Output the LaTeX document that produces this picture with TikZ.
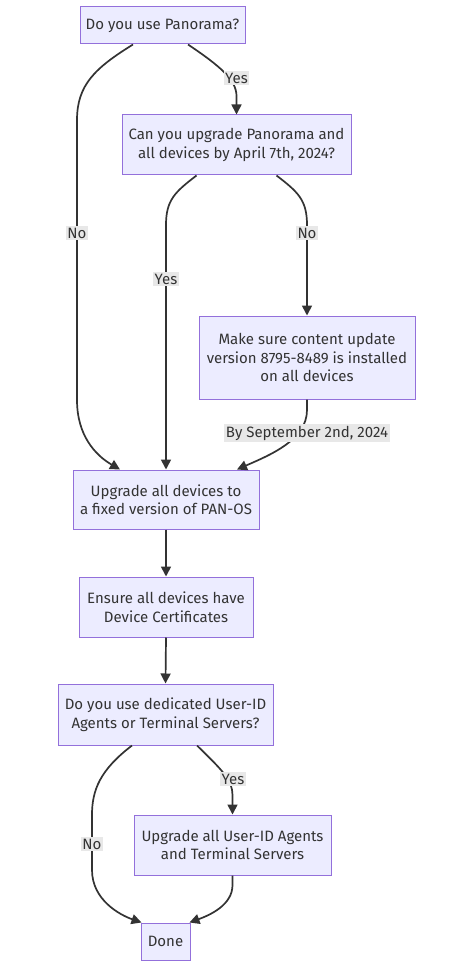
\documentclass[tikz,border=0pt]{standalone}
\usepackage{fontspec}
\setmainfont{Fira Sans}
\usetikzlibrary{arrows.meta}
\definecolor{boxfill}{HTML}{ECECFF}
\definecolor{boxline}{HTML}{9370DB}
\definecolor{ink}{HTML}{333333}
\definecolor{lblbg}{HTML}{E8E8E8}
\begin{document}
\begin{tikzpicture}[x=1pt,y=-1pt,
  every node/.style={font=\fontsize{15}{18.5}\selectfont, text=ink},
  flowbox/.style={draw=boxline, fill=boxfill, line width=1pt, align=center, inner sep=0pt},
  conn/.style={draw=ink, line width=1.7pt, -{Triangle[length=10pt,width=10pt]}},
  elabel/.style={fill=lblbg, inner sep=1.5pt, align=center}]
\useasboundingbox[fill=white] (0,0) rectangle (474,968);

\node[flowbox, minimum width=165pt, minimum height=37pt] (n1) at (162.5,25.5) {Do you use Panorama?};
\node[flowbox, minimum width=229pt, minimum height=60pt] (n2) at (236.5,145) {Can you upgrade Panorama and\\all devices by April 7th, 2024?};
\node[flowbox, minimum width=216pt, minimum height=83pt] (n3) at (307,357.5) {Make sure content update\\version 8795-8489 is installed\\on all devices};
\node[flowbox, minimum width=186pt, minimum height=59pt] (n4) at (166,499.5) {Upgrade all devices to\\a fixed version of PAN-OS};
\node[flowbox, minimum width=174pt, minimum height=60pt] (n5) at (166,607) {Ensure all devices have\\Device Certificates};
\node[flowbox, minimum width=215pt, minimum height=61pt] (n6) at (165.5,714.5) {Do you use dedicated User-ID\\Agents or Terminal Servers?};
\node[flowbox, minimum width=197pt, minimum height=60pt] (n7) at (232.5,845) {Upgrade all User-ID Agents\\and Terminal Servers};
\node[flowbox, minimum width=49pt, minimum height=37pt] (n8) at (165.5,941.5) {Done};

% 1 -> 2 Yes
\draw[conn] ([xshift=25.5pt]n1.south) .. controls (220,66) and (236.5,80) .. (236.5,96) -- (n2.north);
\node[elabel] (l1) at (236.5,78) {Yes};
% 1 -> 4 No
\draw[conn] ([xshift=-29.5pt]n1.south) .. controls (95,68) and (77,85) .. (77,120) -- (77,400) .. controls (77,435) and (95,455) .. ([xshift=-46pt]n4.north);
\node[elabel] (l2) at (77,233) {No};
% 2 -> 4 Yes
\draw[conn] ([xshift=-40pt]n2.south) .. controls (175,192) and (166,200) .. (166,225) -- (n4.north);
\node[elabel] (l3) at (166,279) {Yes};
% 2 -> 3 No
\draw[conn] ([xshift=40pt]n2.south) .. controls (298,192) and (307,200) .. (307,225) -- (n3.north);
\node[elabel] (l4) at (307,233) {No};
% 3 -> 4
\draw[conn] (n3.south) -- (307,410) .. controls (307,440) and (270,455) .. ([xshift=71pt]n4.north);
\node[elabel] (l5) at (307,433) {By September 2nd, 2024};
% 4 -> 5 -> 6
\draw[conn] (n4.south) -- (n5.north);
\draw[conn] (n5.south) -- (n6.north);
% 6 -> 7 Yes
\draw[conn] ([xshift=31.5pt]n6.south) .. controls (222,770) and (232.5,780) .. (232.5,795) -- (n7.north);
\node[elabel] (l6) at (233,779) {Yes};
% 6 -> 8 No
\draw[conn] ([xshift=-33.5pt]n6.south) .. controls (100,770) and (92,790) .. (92,815) -- (92,870) .. controls (92,900) and (120,915) .. ([xshift=-24pt]n8.north);
\node[elabel] (l7) at (92,844) {No};
% 7 -> 8
\draw[conn] (n7.south) -- (232.5,885) .. controls (232.5,905) and (210,915) .. ([xshift=24pt]n8.north);
\end{tikzpicture}
\end{document}
